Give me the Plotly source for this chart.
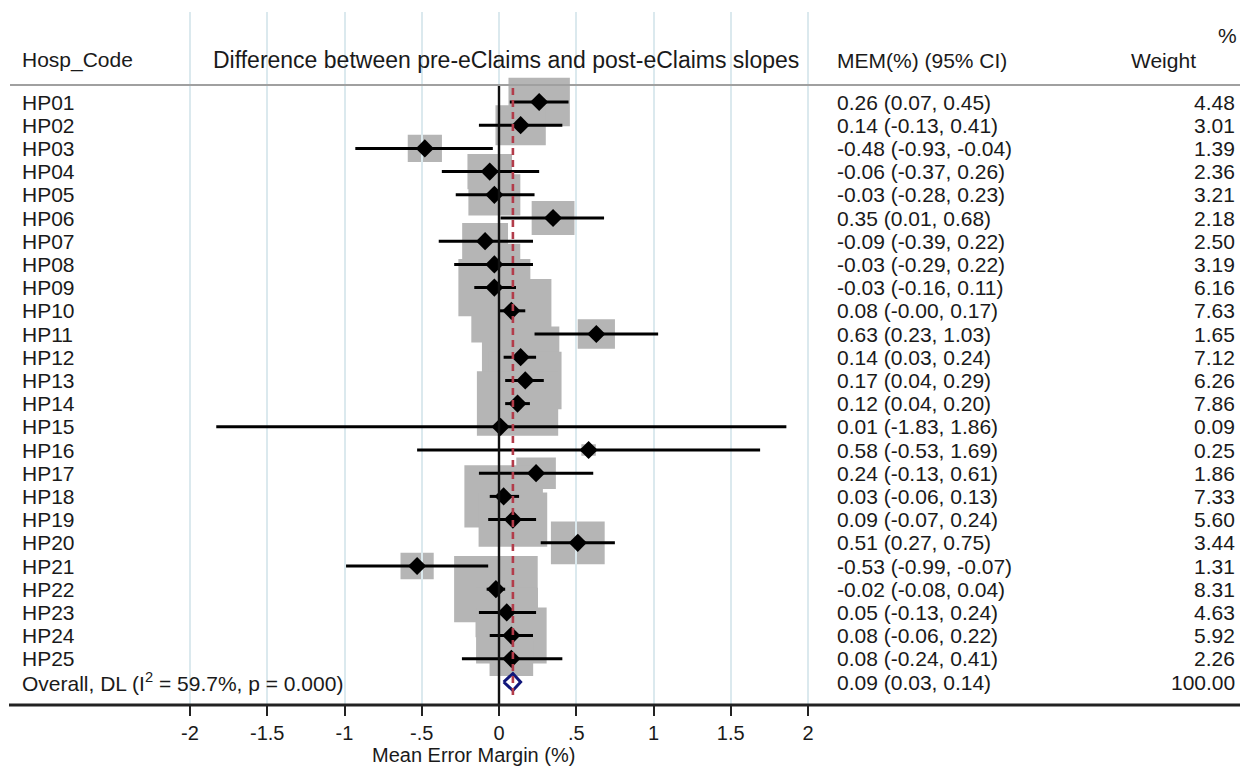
import math
import plotly.graph_objects as go

# ---------------- data ----------------
hosp_codes = ["HP01", "HP02", "HP03", "HP04", "HP05", "HP06", "HP07", "HP08", "HP09", "HP10",
              "HP11", "HP12", "HP13", "HP14", "HP15", "HP16", "HP17", "HP18", "HP19", "HP20",
              "HP21", "HP22", "HP23", "HP24", "HP25"]
mem_est = [0.26, 0.14, -0.48, -0.06, -0.03, 0.35, -0.09, -0.03, -0.03, 0.08,
           0.63, 0.14, 0.17, 0.12, 0.01, 0.58, 0.24, 0.03, 0.09, 0.51,
           -0.53, -0.02, 0.05, 0.08, 0.08]
ci_low = [0.07, -0.13, -0.93, -0.37, -0.28, 0.01, -0.39, -0.29, -0.16, -0.00,
          0.23, 0.03, 0.04, 0.04, -1.83, -0.53, -0.13, -0.06, -0.07, 0.27,
          -0.99, -0.08, -0.13, -0.06, -0.24]
ci_high = [0.45, 0.41, -0.04, 0.26, 0.23, 0.68, 0.22, 0.22, 0.11, 0.17,
           1.03, 0.24, 0.29, 0.20, 1.86, 1.69, 0.61, 0.13, 0.24, 0.75,
           -0.07, 0.04, 0.24, 0.22, 0.41]
ci_text = ["0.26 (0.07, 0.45)", "0.14 (-0.13, 0.41)", "-0.48 (-0.93, -0.04)", "-0.06 (-0.37, 0.26)",
           "-0.03 (-0.28, 0.23)", "0.35 (0.01, 0.68)", "-0.09 (-0.39, 0.22)", "-0.03 (-0.29, 0.22)",
           "-0.03 (-0.16, 0.11)", "0.08 (-0.00, 0.17)", "0.63 (0.23, 1.03)", "0.14 (0.03, 0.24)",
           "0.17 (0.04, 0.29)", "0.12 (0.04, 0.20)", "0.01 (-1.83, 1.86)", "0.58 (-0.53, 1.69)",
           "0.24 (-0.13, 0.61)", "0.03 (-0.06, 0.13)", "0.09 (-0.07, 0.24)", "0.51 (0.27, 0.75)",
           "-0.53 (-0.99, -0.07)", "-0.02 (-0.08, 0.04)", "0.05 (-0.13, 0.24)", "0.08 (-0.06, 0.22)",
           "0.08 (-0.24, 0.41)"]
weights = [4.48, 3.01, 1.39, 2.36, 3.21, 2.18, 2.50, 3.19, 6.16, 7.63,
           1.65, 7.12, 6.26, 7.86, 0.09, 0.25, 1.86, 7.33, 5.60, 3.44,
           1.31, 8.31, 4.63, 5.92, 2.26]
overall_label = "Overall, DL (I<sup>2</sup> = 59.7%, p = 0.000)"
overall_est, overall_low, overall_high, overall_weight = 0.09, 0.03, 0.14, 100.00
overall_text = "0.09 (0.03, 0.14)"
tick_vals = [-2, -1.5, -1, -0.5, 0, 0.5, 1, 1.5, 2]
tick_text = ["-2", "-1.5", "-1", "-.5", "0", ".5", "1", "1.5", "2"]

# ---------------- layout helpers ----------------
OFF = 8                      # page body margin in the browser
W, H = 1248 - 2 * OFF, 774 - 2 * OFF
PX_PER_X = 154.5
PX_PER_Y = 23.2
X_RANGE = [-2 + (OFF - 190) / PX_PER_X, -2 + (1248 - OFF - 190) / PX_PER_X]
Y_RANGE = [1 + (705 - 102) / PX_PER_Y, 1 + (12 - 102) / PX_PER_Y]
PLOT_H = 705 - 12
FONT = "Liberation Sans, Arial, sans-serif"
TXT = "#1a1a1a"
FS = 21


def px(xref_px):
    """reference-image x pixel -> paper fraction"""
    return (xref_px - OFF) / W


def rowy(yref_px):
    return 1 + (yref_px - 102) / PX_PER_Y


rows = list(range(1, len(hosp_codes) + 1))
overall_row = len(hosp_codes) + 1

fig = go.Figure()

# weight boxes (area proportional to weight)
for e, w, r in zip(mem_est, weights, rows):
    hw = 29 * math.sqrt(w) / 2 / PX_PER_X
    hh = 23 * math.sqrt(w) / 2 / PX_PER_Y
    fig.add_shape(type="rect", xref="x", yref="y", x0=e - hw, x1=e + hw,
                  y0=r - hh, y1=r + hh, fillcolor="#b5b5b5", line_width=0, layer="below")

header_rule_y = rowy(85)
# zero line
fig.add_shape(type="line", xref="x", yref="y", x0=0, x1=0, y0=header_rule_y, y1=Y_RANGE[0],
              line=dict(color="#111111", width=2.4))
# overall dashed line
fig.add_shape(type="line", xref="x", yref="y", x0=overall_est, x1=overall_est,
              y0=rowy(88), y1=rowy(697),
              line=dict(color="#b23c4a", width=2.6, dash="7px,5px"))
# header rule
fig.add_shape(type="line", xref="paper", yref="y", x0=px(10), x1=1, y0=header_rule_y, y1=header_rule_y,
              line=dict(color="#a0a0a0", width=2))
# bottom axis rule
fig.add_shape(type="line", xref="paper", yref="paper", x0=px(9), x1=1, y0=0, y1=0,
              line=dict(color="#222222", width=3))

# CIs and point estimates
fig.add_trace(go.Scatter(
    x=mem_est, y=rows, mode="markers",
    marker=dict(symbol="diamond", size=14, color="black"),
    error_x=dict(type="data", symmetric=False,
                 array=[h - e for h, e in zip(ci_high, mem_est)],
                 arrayminus=[e - l for e, l in zip(mem_est, ci_low)],
                 color="black", thickness=3, width=0),
    showlegend=False, hoverinfo="skip"))

# overall diamond
dh = 8.5 / PX_PER_Y
fig.add_trace(go.Scatter(
    x=[overall_low, overall_est, overall_high, overall_est, overall_low],
    y=[overall_row, overall_row - dh, overall_row, overall_row + dh, overall_row],
    mode="lines", line=dict(color="#10167a", width=3),
    showlegend=False, hoverinfo="skip"))

ann = []


def add_text(x, y, text, xanchor="left", yref="y", size=FS):
    ann.append(dict(x=x, y=y, xref="paper", yref=yref, text=text, showarrow=False,
                    xanchor=xanchor, yanchor="middle",
                    font=dict(family=FONT, size=size, color=TXT)))


# headers
hy = rowy(60)
add_text(px(20), hy, "Hosp_Code")
add_text(px(506), hy, "Difference between pre-eClaims and post-eClaims slopes", xanchor="center", size=23)
add_text(px(835), hy, "MEM(%) (95% CI)")
add_text(px(1198), hy, "Weight", xanchor="right")
add_text(px(1239), rowy(35), "%", xanchor="right")

for code, t, w, r in zip(hosp_codes, ci_text, weights, rows):
    add_text(px(20), r, code)
    add_text(px(835), r, t)
    add_text(px(1237), r, f"{w:.2f}", xanchor="right")

add_text(px(20), overall_row, overall_label)
add_text(px(835), overall_row, overall_text)
add_text(px(1237), overall_row, f"{overall_weight:.2f}", xanchor="right")

# x-axis title
ann.append(dict(x=px(474), y=-(755 - 705) / PLOT_H, xref="paper", yref="paper",
                text="Mean Error Margin (%)", showarrow=False, xanchor="center", yanchor="middle",
                font=dict(family=FONT, size=20, color=TXT)))

fig.update_layout(
    width=W, height=H,
    margin=dict(l=0, r=0, t=12 - OFF, b=(774 - OFF) - 705),
    paper_bgcolor="white", plot_bgcolor="white",
    annotations=ann,
    xaxis=dict(range=X_RANGE, tickvals=tick_vals, ticktext=tick_text,
               showgrid=True, gridcolor="#dbe9ee", gridwidth=1.5,
               zeroline=False, showline=False,
               ticks="outside", ticklen=10, tickwidth=2, tickcolor="#222222",
               tickfont=dict(family=FONT, size=20, color=TXT)),
    yaxis=dict(range=Y_RANGE, showgrid=False, zeroline=False, showticklabels=False,
               showline=False, ticks=""),
)

fig.write_html("out.html")
